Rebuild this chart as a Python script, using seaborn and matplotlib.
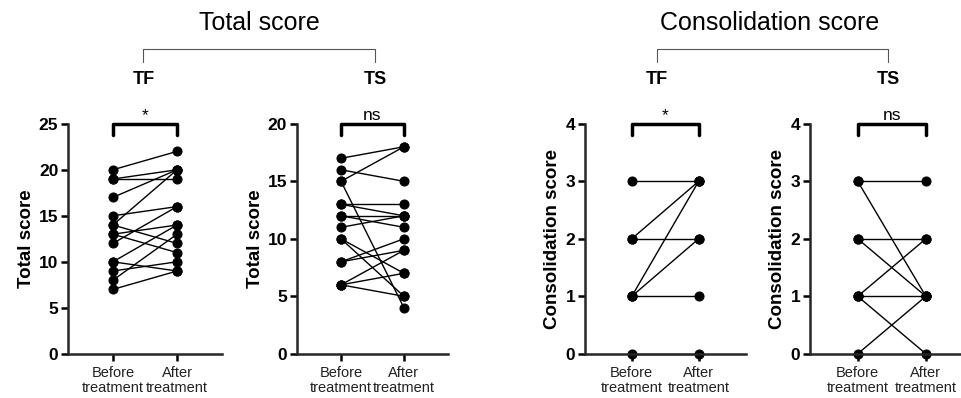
import pandas as pd
import matplotlib.pyplot as plt
import seaborn as sns

# Datos (antes / después por sujeto)
tf_total_before = [20, 19, 19, 17, 15, 14, 14, 13, 13, 12, 10, 10, 9, 8, 7]
tf_total_after = [22, 20, 19, 20, 16, 20, 12, 14, 11, 16, 14, 9, 10, 13, 9]

ts_total_before = [17, 16, 15, 15, 13, 13, 12, 12, 11, 10, 10, 8, 8, 6, 6, 6]
ts_total_after = [18, 15, 18, 4, 13, 12, 12, 11, 12, 7, 5, 9, 10, 9, 7, 5]

tf_cons_before = [3, 2, 2, 1, 1, 1, 0]
tf_cons_after = [3, 3, 2, 3, 2, 1, 0]

ts_cons_before = [3, 3, 2, 2, 1, 1, 1, 0]
ts_cons_after = [3, 1, 2, 1, 2, 1, 0, 1]

tick_labels = ['Before\ntreatment', 'After\ntreatment']

panels = [
    (tf_total_before, tf_total_after, 'Total score', [0, 5, 10, 15, 20, 25], '*'),
    (ts_total_before, ts_total_after, 'Total score', [0, 5, 10, 15, 20], 'ns'),
    (tf_cons_before, tf_cons_after, 'Consolidation score', [0, 1, 2, 3, 4], '*'),
    (ts_cons_before, ts_cons_after, 'Consolidation score', [0, 1, 2, 3, 4], 'ns'),
]

sns.set_theme(style="ticks")
plt.rcParams['font.family'] = ['Liberation Sans', 'DejaVu Sans']
plt.rcParams['text.color'] = 'black'
plt.rcParams['axes.labelcolor'] = 'black'
plt.rcParams['xtick.color'] = 'black'
plt.rcParams['ytick.color'] = 'black'

fig = plt.figure(figsize=(9.62, 3.98), dpi=100)
lefts = [0.0707, 0.3087, 0.608, 0.842]
widths = [0.160, 0.157, 0.167, 0.170]

for i, (before, after, ylabel, yticks, sig) in enumerate(panels):
    ax = fig.add_axes([lefts[i], 0.111, widths[i], 0.578])
    n = len(before)
    df = pd.DataFrame({
        'subject': list(range(n)) * 2,
        'time': [0] * n + [1] * n,
        'score': before + after,
    })
    sns.lineplot(data=df, x='time', y='score', units='subject', estimator=None,
                 color='black', linewidth=1, marker='o', markersize=6.5,
                 markeredgecolor='black', ax=ax)
    for ln in ax.lines:
        ln.set_clip_on(False)

    top = yticks[-1]
    ax.set_ylim(0, top)
    ax.set_xlim(-0.7, 1.7)
    ax.set_yticks(yticks)
    ax.set_yticklabels([str(t) for t in yticks], fontweight='bold', fontsize=12.5)
    ax.set_xticks([0, 1])
    ax.set_xticklabels(tick_labels, fontsize=10.5, color='#222222', linespacing=1.05)
    ax.set_xlabel('')
    ax.set_ylabel(ylabel, fontsize=13.5, fontweight='bold', labelpad=3)
    ax.tick_params(axis='both', width=1.8, length=5)
    ax.tick_params(axis='x', pad=4)
    ax.tick_params(axis='y', pad=2)
    sns.despine(ax=ax)
    for s in ['left', 'bottom']:
        ax.spines[s].set_linewidth(1.8)

    # corchete de significancia
    h = top * 0.05
    ax.plot([0, 0, 1, 1], [top - h, top, top, top - h], color='black',
            linewidth=2.5, clip_on=False)
    ax.text(0.5, top + top * 0.005, sig, ha='center', va='bottom', fontsize=12.5)

# encabezados y corchetes superiores
for title, xc, x1, x2 in [('Total score', 0.270, 0.149, 0.390),
                          ('Consolidation score', 0.800, 0.683, 0.923)]:
    fig.text(xc, 0.943, title, ha='center', va='center', fontsize=18)
    fig.add_artist(plt.Line2D([x1, x1, x2, x2], [0.845, 0.878, 0.878, 0.845],
                              color='#555555', linewidth=0.8))
    fig.text(x1, 0.80, 'TF', ha='center', va='center', fontsize=13, fontweight='bold')
    fig.text(x2, 0.80, 'TS', ha='center', va='center', fontsize=13, fontweight='bold')

plt.savefig('out.png', dpi=100)
